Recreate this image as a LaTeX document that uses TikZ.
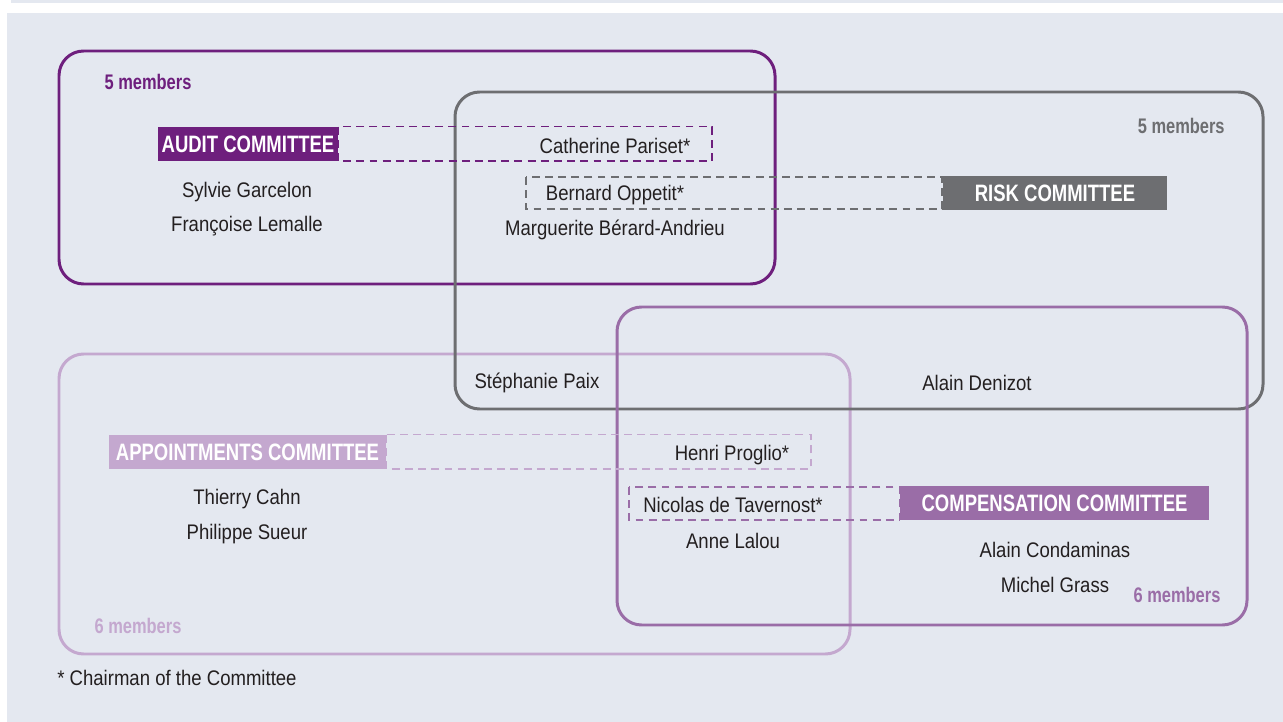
\documentclass[tikz,border=0pt]{standalone}
\usepackage{fontspec}
\setmainfont{Liberation Sans}[FakeStretch=0.88]
\newfontfamily\headfont{Liberation Sans}[FakeStretch=0.78]
\definecolor{panelbg}{HTML}{E4E8F0}
\definecolor{auditc}{HTML}{6E1F7D}
\definecolor{riskc}{HTML}{6D6E71}
\definecolor{compc}{HTML}{9A6DA7}
\definecolor{apptc}{HTML}{C4A8CF}
\definecolor{namec}{HTML}{231F20}
\tikzset{
  board/.style={draw=#1, line width=1.7pt, rounded corners=14pt},
  headbox/.style={fill=#1, text=white, inner sep=0pt, minimum height=19.3pt,
    font=\headfont\bfseries\fontsize{13.5}{15}\selectfont},
  chairline/.style={draw=#1, line width=0.85pt, dash pattern=on 4.5pt off 3pt},
  member/.style={text=namec, inner sep=0pt, yshift=-1pt, font=\fontsize{12}{14}\selectfont},
  countlabel/.style={text=#1, inner sep=0pt, font=\headfont\bfseries\fontsize{12}{14}\selectfont},
}
\begin{document}
\begin{tikzpicture}[x=0.02cm, y=-0.02cm]
\useasboundingbox (0,0) rectangle (1283,722);
% backdrop
\fill[panelbg] (11,0) rectangle (1283,3);
\fill[panelbg] (7,13) rectangle (1283,722);
% committee frames
\draw[board=auditc] (59,51) rectangle (775,284);
\draw[board=apptc] (59,354) rectangle (850,654);
\draw[board=riskc] (455,92) rectangle (1263,409);
\draw[board=compc] (617,307) rectangle (1247,625);
% member counts
\node[countlabel=auditc] (auditn) at (148,82) {5 members};
\node[countlabel=riskc, anchor=east] (riskn) at (1225,126) {5 members};
\node[countlabel=compc] (compn) at (1177,595) {6 members};
\node[countlabel=apptc] (apptn) at (138,626) {6 members};
% committee labels
\node[headbox=auditc, minimum width=102pt] (audit) at (248,144) {AUDIT COMMITTEE};
\node[headbox=riskc, minimum width=128pt] (risk) at (1055,193) {RISK COMMITTEE};
\node[headbox=apptc, minimum width=158pt] (appt) at (247.5,452) {APPOINTMENTS COMMITTEE};
\node[headbox=compc, minimum width=176pt] (comp) at (1054.5,503) {COMPENSATION COMMITTEE};
% chairmen
\draw[chairline=auditc] (audit.north east) rectangle (712,161);
\draw[chairline=riskc] (526,177) rectangle (risk.south west |- 0,209);
\draw[chairline=apptc] (appt.north east) rectangle (811,469);
\draw[chairline=compc] (629,487) rectangle (comp.south west |- 0,520);
\node[member] (pariset) at (615,144) {Catherine Pariset*};
\node[member] (oppetit) at (615,193) {Bernard Oppetit*};
\node[member] (proglio) at (732,453) {Henri Proglio*};
\node[member] (tavernost) at (733,503) {Nicolas de Tavernost*};
% members
\node[member] (garcelon) at (247,190) {Sylvie Garcelon};
\node[member] (lemalle) at (247,224) {Françoise Lemalle};
\node[member] (berard) at (615,228) {Marguerite Bérard-Andrieu};
\node[member] (paix) at (537,381) {Stéphanie Paix};
\node[member] (denizot) at (977,381) {Alain Denizot};
\node[member] (cahn) at (247,497) {Thierry Cahn};
\node[member] (sueur) at (247,532) {Philippe Sueur};
\node[member] (lalou) at (733,539) {Anne Lalou};
\node[member] (condaminas) at (1055,548) {Alain Condaminas};
\node[member] (grass) at (1055,583) {Michel Grass};
% footnote
\node[member, anchor=west] (note) at (57,676) {* Chairman of the Committee};
\end{tikzpicture}
\end{document}
